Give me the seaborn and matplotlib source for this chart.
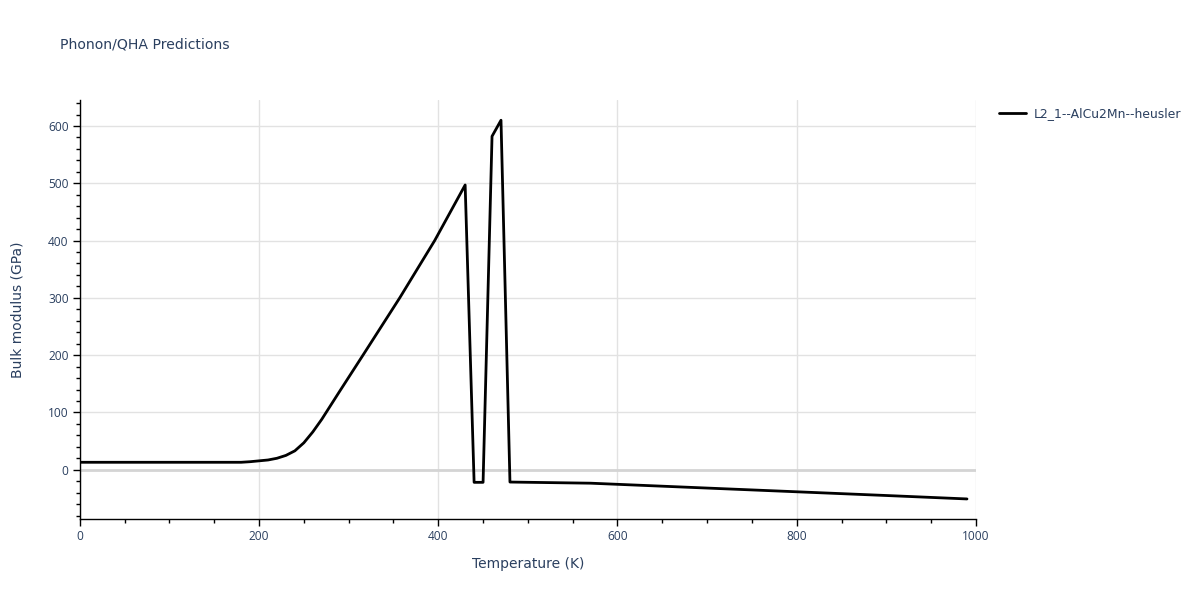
import matplotlib

matplotlib.use("Agg")
import matplotlib.pyplot as plt
import pandas as pd
import seaborn as sns
from matplotlib.ticker import MultipleLocator

# values
temperature_k = [
    0, 180, 190, 200, 210, 220, 230, 240, 250, 260, 270, 290, 316, 357,
    396, 430, 440, 450, 460, 470, 480, 570, 700, 800, 900, 990,
]
bulk_modulus_gpa = [
    13, 13, 14, 15.5, 17, 20, 25, 33, 47, 66, 88, 137, 200, 300,
    400, 497, -22, -22, 582, 610, -21.5, -23.5, -32, -38.5, -45, -51,
]
series_name = "L2_1--AlCu2Mn--heusler"

TEXT = "#2a3f5f"
GRID = "#e2e2e2"
WIDE = ["DejaVu Sans"]

df = pd.DataFrame({"T": temperature_k, "B": bulk_modulus_gpa, "name": series_name})

sns.set_theme(style="white")
plt.rcParams["font.family"] = ["Open Sans", "DejaVu Sans"]

fig = plt.figure(figsize=(12, 6), dpi=100)
ax = fig.add_axes([0.0665, 0.135, 0.7468, 0.698])

sns.lineplot(data=df, x="T", y="B", hue="name", palette=["black"],
             linewidth=2, sort=False, ax=ax, zorder=3)

ax.set_xlim(0, 1000)
ax.set_ylim(-86, 645)
ax.xaxis.set_major_locator(MultipleLocator(200))
ax.xaxis.set_minor_locator(MultipleLocator(50))
ax.yaxis.set_major_locator(MultipleLocator(100))
ax.yaxis.set_minor_locator(MultipleLocator(20))

ax.grid(True, which="major", color=GRID, linewidth=1)
ax.axhline(0, color="#d4d4d4", linewidth=2, zorder=1)
ax.set_axisbelow(True)

for side in ["top", "right"]:
    ax.spines[side].set_visible(False)
for side in ["left", "bottom"]:
    ax.spines[side].set_color("black")
    ax.spines[side].set_linewidth(1)

ax.tick_params(which="major", direction="out", length=5, width=1, color="black",
               labelsize=8.6, labelcolor=TEXT, left=True, bottom=True, pad=3)
ax.tick_params(which="minor", direction="out", length=3, width=1, color="black",
               left=True, bottom=True)

ax.set_xlabel("Temperature (K)", fontsize=10, color=TEXT, labelpad=10, family=WIDE)
ax.set_ylabel("Bulk modulus (GPa)", fontsize=10, color=TEXT, labelpad=17, family=WIDE)

fig.text(0.05, 0.925, "Phonon/QHA Predictions", fontsize=10.1, color=TEXT,
         ha="left", va="center", family=WIDE)

leg = ax.legend(loc="upper left", bbox_to_anchor=(1.02, 0.995), frameon=False,
                prop={"family": WIDE, "size": 8.9}, handlelength=2.2,
                handletextpad=0.6, borderaxespad=0.0)
for t in leg.get_texts():
    t.set_color(TEXT)

fig.savefig("out.png", dpi=100, facecolor="white")
